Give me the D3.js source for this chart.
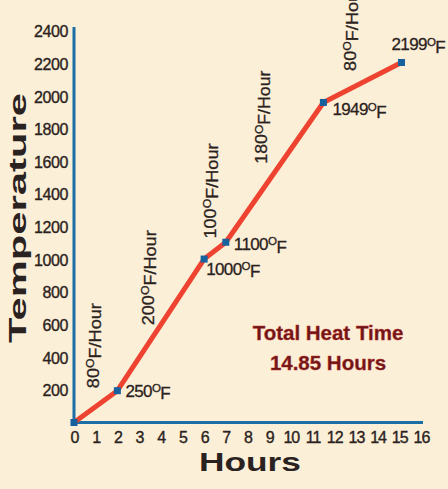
<!DOCTYPE html>
<html>
<head>
<meta charset="utf-8">
<script src="https://cdn.jsdelivr.net/npm/d3@7"></script>
<style>
  html, body { margin: 0; padding: 0; background: #fcefd7; }
  svg { display: block; }
  text { font-family: "Liberation Sans", Arial, sans-serif; }
</style>
</head>
<body>
<svg id="chart" width="448" height="489"></svg>
<script>
// ---- data ----
const hours = [0, 2, 6, 7, 11.5, 15.1];
const temps = [0, 195, 1002, 1105, 1962, 2207];
const pointLabels = ["", "250", "1000", "1100", "1949", "2199"];
const rates = [80, 200, 100, 180, 80];
const rateHours = [0.88, 3.41, 6.27, 8.64, 12.72];
const rateTemps = [471, 887, 1419, 1872, 2416];
const yTicks = [200, 400, 600, 800, 1000, 1200, 1400, 1600, 1800, 2000, 2200, 2400];
const xTicks = d3.range(0, 17);
const totalTitle = "Total Heat Time";
const totalValue = "14.85 Hours";
const xTitle = "Hours";
const yTitle = "Temperature";

// ---- layout ----
const svg = d3.select("#chart");
const x = d3.scaleLinear().domain([0, 16]).range([74, 421]);
const y = d3.scaleLinear().domain([0, 2400]).range([422.5, 31]);
const axisColor = "#1b6ea6";
const inkColor = "#2a2220";

// axes (labels only)
const yAxis = d3.axisLeft(y).tickValues(yTicks).tickFormat(d3.format("d")).tickSize(0).tickPadding(6);
const gy = svg.append("g").attr("transform", `translate(${x(0)},0)`).call(yAxis);
gy.select(".domain").remove();
gy.selectAll("text").attr("font-size", 16).attr("fill", inkColor)
  .attr("stroke", inkColor).attr("stroke-width", 0.35)
  .attr("letter-spacing", -0.4)
  .attr("font-family", "Liberation Sans, Arial, sans-serif").attr("dy", "0.36em");

const xAxis = d3.axisBottom(x).tickValues(xTicks).tickFormat(d3.format("d")).tickSize(0).tickPadding(9);
const gx = svg.append("g").attr("transform", `translate(0,${y(0)})`).call(xAxis);
gx.select(".domain").remove();
gx.selectAll("text").attr("font-size", 16).attr("fill", inkColor)
  .attr("stroke", inkColor).attr("stroke-width", 0.35)
  .attr("font-family", "Liberation Sans, Arial, sans-serif").attr("letter-spacing", -0.9);

// axis lines
svg.append("line").attr("x1", x(0)).attr("x2", x(0)).attr("y1", y(0) + 1.5).attr("y2", y(2400) - 4)
  .attr("stroke", axisColor).attr("stroke-width", 3);
svg.append("line").attr("x1", x(0) - 1.5).attr("x2", x(16) + 2).attr("y1", y(0)).attr("y2", y(0))
  .attr("stroke", axisColor).attr("stroke-width", 3);

// axis titles
svg.append("text").attr("x", 250).attr("y", 471)
  .attr("text-anchor", "middle").attr("font-size", 26).attr("font-weight", "bold")
  .attr("font-family", "DejaVu Sans, sans-serif")
  .attr("textLength", 102).attr("lengthAdjust", "spacingAndGlyphs")
  .attr("fill", inkColor).text(xTitle);
svg.append("text").attr("transform", "translate(26,218) rotate(-90)")
  .attr("text-anchor", "middle").attr("font-size", 23).attr("font-weight", "bold")
  .attr("font-family", "DejaVu Sans, sans-serif")
  .attr("textLength", 250).attr("lengthAdjust", "spacingAndGlyphs")
  .attr("fill", inkColor).text(yTitle);

// line
const pts = hours.map((h, i) => [h, temps[i]]);
svg.append("path").datum(pts)
  .attr("d", d3.line().x(d => x(d[0])).y(d => y(d[1])))
  .attr("fill", "none").attr("stroke", "#ee4331").attr("stroke-width", 5)
  .attr("stroke-linejoin", "round").attr("stroke-linecap", "round");

// markers
svg.append("g").selectAll("rect").data(pts).join("rect")
  .attr("x", d => x(d[0]) - 3.5).attr("y", d => y(d[1]) - 3.5)
  .attr("width", 7).attr("height", 7).attr("fill", "#17619e");

// degree label helper
function degText(sel, num, suffix) {
  sel.append("tspan").text(num);
  sel.append("tspan").attr("font-size", "0.68em").attr("dy", "-0.42em").text("O");
  sel.append("tspan").attr("dy", "0.42em").text("F" + (suffix || ""));
}

// point labels
const labelOffsets = [[0, 0], [8, 0], [2, 10], [8, 2], [9, 7], [-10, -18]];
pts.forEach((d, i) => {
  if (!pointLabels[i]) return;
  const t = svg.append("text")
    .attr("x", x(d[0]) + labelOffsets[i][0])
    .attr("y", y(d[1]) + labelOffsets[i][1] + 6)
    .attr("font-size", 17).attr("fill", inkColor)
    .attr("stroke", inkColor).attr("stroke-width", 0.3)
    .attr("letter-spacing", -0.6);
  degText(t, pointLabels[i]);
});

// rate labels (rotated)
const rateLens = [85, 95, 95, 93, 85];
rates.forEach((r, i) => {
  const t = svg.append("text")
    .attr("transform", `translate(${x(rateHours[i]) + 6},${y(rateTemps[i])}) rotate(-90)`)
    .attr("text-anchor", "middle")
    .attr("font-size", 17).attr("fill", inkColor)
    .attr("stroke", inkColor).attr("stroke-width", 0.3)
    .attr("textLength", rateLens[i]).attr("lengthAdjust", "spacingAndGlyphs");
  degText(t, String(r), "/Hour");
});

// total heat time annotation
const annot = svg.append("g").attr("fill", "#6f1616").attr("stroke", "#b83030").attr("stroke-width", 0.4)
  .attr("font-size", 20.5).attr("font-weight", "bold").attr("text-anchor", "middle");
annot.append("text").attr("x", 328).attr("y", 340).text(totalTitle);
annot.append("text").attr("x", 328).attr("y", 370).text(totalValue);
</script>
</body>
</html>
